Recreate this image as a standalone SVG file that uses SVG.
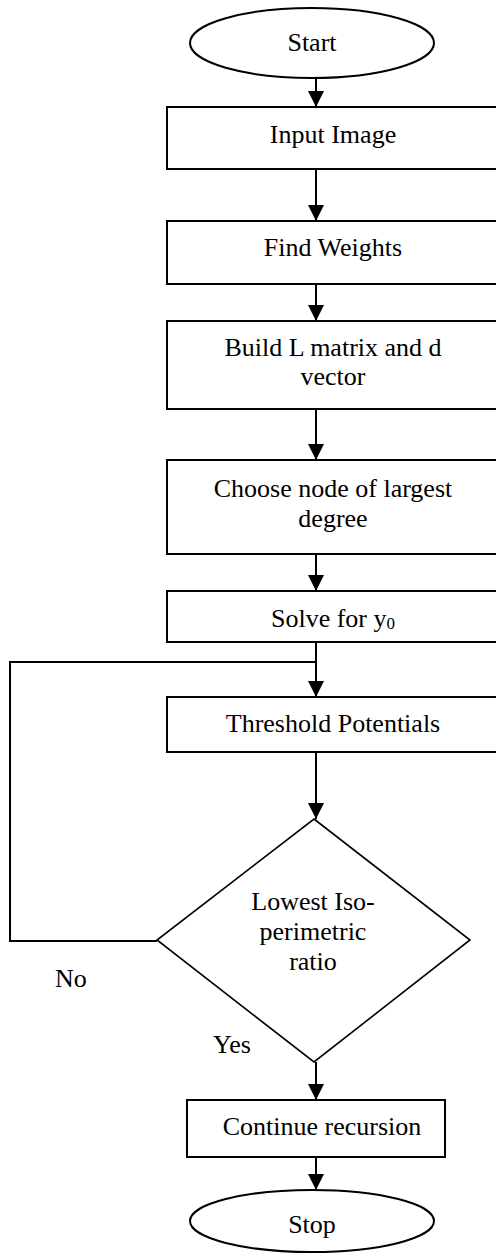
<svg xmlns="http://www.w3.org/2000/svg" width="496" height="1256" viewBox="0 0 496 1256">
<style>
.shape{fill:#fff;stroke:#000;stroke-width:2}
.dia{fill:#fff;stroke:#000;stroke-width:1.6}
.t{font-family:'Liberation Serif','Times New Roman',Tinos,'DejaVu Serif',serif;font-size:26px;fill:#000;text-anchor:middle}
.lbl{font-family:'Liberation Serif','Times New Roman',Tinos,'DejaVu Serif',serif;font-size:26px;fill:#000}
.c{fill:none;stroke:#000;stroke-width:2}
</style>
<defs>
<marker id="ah" markerUnits="userSpaceOnUse" markerWidth="16" markerHeight="18" refX="16" refY="8" orient="auto">
<path d="M0,0 L16,8 L0,16 Z" fill="#000"/>
</marker>
</defs>
<g id="start"><ellipse class="shape" cx="312" cy="43" rx="122" ry="35"/><text class="t" x="312" y="51">Start</text></g>
<g id="input"><rect class="shape" x="167" y="107" width="332" height="62"/><text class="t" x="333" y="143">Input Image</text></g>
<g id="weights"><rect class="shape" x="167" y="221" width="332" height="63"/><text class="t" x="333" y="256">Find Weights</text></g>
<g id="build"><rect class="shape" x="167" y="321" width="332" height="88"/><text class="t" x="333" y="356">Build L matrix and d</text><text class="t" x="333" y="385">vector</text></g>
<g id="choose"><rect class="shape" x="167" y="460" width="332" height="94"/><text class="t" x="333" y="497">Choose node of largest</text><text class="t" x="333" y="527">degree</text></g>
<g id="solve"><rect class="shape" x="167" y="591" width="332" height="51"/><text class="t" x="333" y="627">Solve for y<tspan font-size="17" dy="2">0</tspan></text></g>
<g id="threshold"><rect class="shape" x="167" y="697" width="332" height="55"/><text class="t" x="333" y="732">Threshold Potentials</text></g>
<g id="decision"><polygon class="dia" points="314,819 470,940 314,1062 157,940"/><text class="t" x="313" y="910">Lowest Iso-</text><text class="t" x="313" y="940">perimetric</text><text class="t" x="313" y="970">ratio</text></g>
<g id="continue"><rect class="shape" x="187" y="1100" width="258" height="57"/><text class="t" x="322" y="1135">Continue recursion</text></g>
<g id="stop"><ellipse class="shape" cx="312" cy="1221" rx="122" ry="31"/><text class="t" x="312" y="1233">Stop</text></g>
<g id="connectors">
<line class="c" x1="316" y1="78" x2="316" y2="107" marker-end="url(#ah)"/>
<line class="c" x1="316" y1="169" x2="316" y2="221" marker-end="url(#ah)"/>
<line class="c" x1="316" y1="284" x2="316" y2="321" marker-end="url(#ah)"/>
<line class="c" x1="316" y1="409" x2="316" y2="460" marker-end="url(#ah)"/>
<line class="c" x1="316" y1="554" x2="316" y2="591" marker-end="url(#ah)"/>
<line class="c" x1="316" y1="642" x2="316" y2="697" marker-end="url(#ah)"/>
<polyline class="c" points="157,941 10,941 10,662 316,662"/>
<line class="c" x1="316" y1="752" x2="316" y2="819" marker-end="url(#ah)"/>
<line class="c" x1="316" y1="1062" x2="316" y2="1100" marker-end="url(#ah)"/>
<line class="c" x1="316" y1="1157" x2="316" y2="1190" marker-end="url(#ah)"/>
<text class="lbl" x="55" y="987">No</text>
<text class="lbl" x="213" y="1053">Yes</text>
</g>
</svg>
